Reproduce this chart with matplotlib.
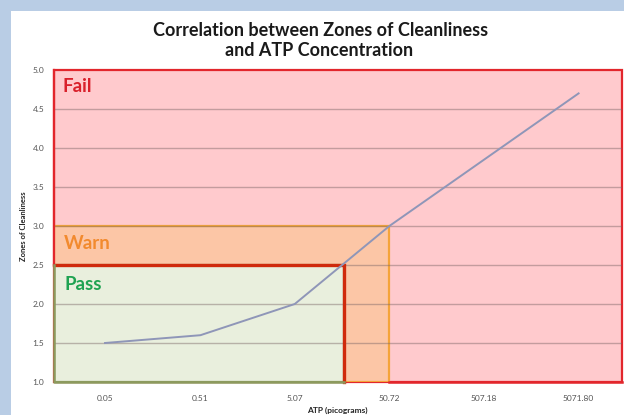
import numpy as np
import matplotlib
matplotlib.use("Agg")
import matplotlib.pyplot as plt
from matplotlib.patches import Rectangle

# Data
atp = [0.05, 0.51, 5.07, 50.72, 507.18, 5071.80]
zones = [1.5, 1.6, 2.0, 3.0, 3.85, 4.7]
tick_labels = ["0.05", "0.51", "5.07", "50.72", "507.18", "5071.80"]
y_ticks = [1.0, 1.5, 2.0, 2.5, 3.0, 3.5, 4.0, 4.5, 5.0]
pass_limit = (17.0, 2.5)
warn_limit = (50.72, 3.0)

W, H = 624, 415
PPD = 94.6  # pixels per decade
fig = plt.figure(figsize=(W / 100, H / 100), dpi=100)
fig.patch.set_facecolor("#b9cde5")
# white panel
fig.patches.append(Rectangle((11 / W, 0), 1, 1 - 11 / H, transform=fig.transFigure,
                             facecolor="white", edgecolor="none", zorder=-5))

ax = fig.add_axes([54 / W, 1 - 382 / H, (622 - 54) / W, (382 - 70) / H])
ax.set_zorder(2)
ax.set_xscale("log")
xmin = 0.05 * 10 ** (-(105 - 54) / PPD)
xmax = 0.05 * 10 ** ((622 - 105) / PPD)
ax.set_xlim(xmin, xmax)
ax.set_ylim(1.0, 5.0)
ax.set_facecolor("none")
for s in ax.spines.values():
    s.set_visible(False)

# zone fills
ax.add_patch(Rectangle((xmin, 1.0), xmax - xmin, 4.0, facecolor="#ffcacd",
                       edgecolor="#e2262c", lw=1.6, zorder=1, clip_on=False))
ax.add_patch(Rectangle((xmin, 1.0), warn_limit[0] - xmin, warn_limit[1] - 1.0,
                       facecolor="#fcc6a6", edgecolor="#f4a43a", lw=1.6, zorder=2))
ax.add_patch(Rectangle((xmin, 1.0), pass_limit[0] - xmin, pass_limit[1] - 1.0,
                       facecolor="#e9efdd", edgecolor="#8c9a5e", lw=1.6, zorder=3))

# gridlines
for y in y_ticks[1:-1]:
    ax.axhline(y, color="#7a6666", alpha=0.45, lw=1.0, zorder=4)

# thick red border of pass zone (top & right)
ax.plot([xmin, pass_limit[0], pass_limit[0]], [pass_limit[1], pass_limit[1], 1.0],
        color="#cf2a0c", lw=2.4, zorder=5, solid_joinstyle="miter", clip_on=False)
# red left border of warn/fail
ax.plot([xmin, xmin], [2.5, 5.0], color="#e2262c", lw=1.6, zorder=5, clip_on=False)
# red bottom border of fail region
ax.plot([warn_limit[0], xmax], [1.0, 1.0], color="#e2262c", lw=1.8, zorder=5, clip_on=False)
# olive bottom/left of pass
ax.plot([xmin, xmin, pass_limit[0]], [pass_limit[1], 1.0, 1.0], color="#8c9a5e",
        lw=1.8, zorder=5, clip_on=False)

# data line
ax.plot(atp, zones, color="#8f96b8", lw=1.4, zorder=6)

# zone labels
ax.annotate("Fail", xy=(63 / W, 1 - 86 / H), xycoords="figure fraction", fontsize=13.5,
            fontweight="bold", color="#d9202b", family="Lato", va="center", zorder=7)
ax.annotate("Warn", xy=(64 / W, 1 - 243 / H), xycoords="figure fraction", fontsize=13.5,
            fontweight="bold", color="#f28a2e", family="Lato", va="center", zorder=7)
ax.annotate("Pass", xy=(64 / W, 1 - 284 / H), xycoords="figure fraction", fontsize=13.5,
            fontweight="bold", color="#1fa352", family="Lato", va="center", zorder=7)

# ticks
ax.set_xticks(atp)
ax.set_xticklabels(tick_labels)
ax.xaxis.set_minor_locator(matplotlib.ticker.NullLocator())
ax.set_yticks(y_ticks)
ax.set_yticklabels([f"{v:.1f}" for v in y_ticks])
ax.tick_params(axis="both", length=0, labelsize=6, labelcolor="#555555")
ax.tick_params(axis="x", pad=9)
ax.tick_params(axis="y", pad=7)
for lab in ax.get_xticklabels() + ax.get_yticklabels():
    lab.set_family("Lato")

ax.set_xlabel("ATP (picograms)", fontsize=6, fontweight="bold", family="Lato",
              color="#222222", labelpad=2)
ax.xaxis.set_label_coords((337 - 54) / (622 - 54), -(407 - 382) / (382 - 70))
ax.set_ylabel("Zones of Cleanliness", fontsize=5.5, fontweight="bold", family="Lato",
              color="#222222")
ax.yaxis.set_label_coords(-(54 - 27) / (622 - 54), (382 - 226) / (382 - 70))

fig.text(321 / W, 1 - 30 / H, "Correlation between Zones of Cleanliness",
         ha="center", va="center", fontsize=13, fontweight="bold", family="Lato",
         color="#1a1a1a")
fig.text(319 / W, 1 - 50 / H, "and ATP Concentration",
         ha="center", va="center", fontsize=13, fontweight="bold", family="Lato",
         color="#1a1a1a")

fig.savefig("out.png", dpi=100, facecolor=fig.get_facecolor())
